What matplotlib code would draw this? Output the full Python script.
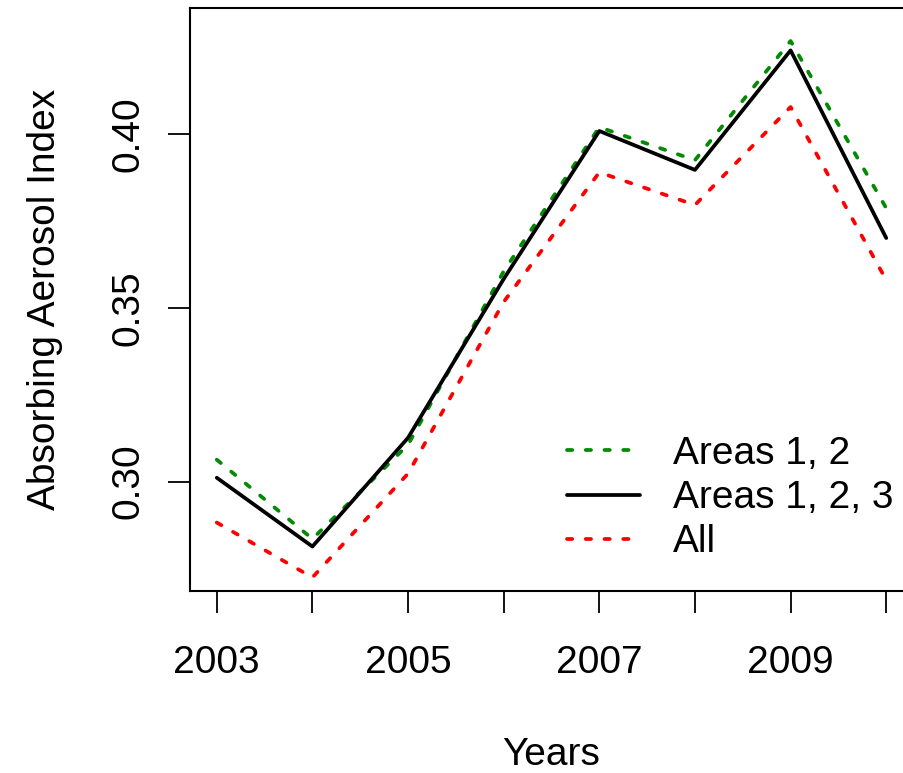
import matplotlib
matplotlib.use("Agg")
import matplotlib.pyplot as plt

years = [2003, 2004, 2005, 2006, 2007, 2008, 2009, 2010]
areas_12 = [0.3063, 0.2835, 0.3106, 0.3605, 0.4020, 0.3925, 0.4268, 0.3787]
areas_123 = [0.3011, 0.2813, 0.3126, 0.3583, 0.4009, 0.3897, 0.4241, 0.3701]
all_areas = [0.2882, 0.2724, 0.3023, 0.3517, 0.3890, 0.3796, 0.4078, 0.3580]
x_tick_labels = ["2003", "", "2005", "", "2007", "", "2009", ""]
y_ticks = [0.30, 0.35, 0.40]
y_tick_labels = ["0.30", "0.35", "0.40"]

plt.rcParams['font.family'] = ['Liberation Sans', 'DejaVu Sans']

W, H = 904, 773
fig = plt.figure(figsize=(W / 100, H / 100), dpi=100)
left, right, top, bottom = 190, 913, 8, 591
ax = fig.add_axes([left / W, (H - bottom) / H, (right - left) / W, (bottom - top) / H])

lw = 2.7
dot = (1.4, 3.6)
ax.plot(years, areas_12, color='#008B00', lw=lw, dashes=dot, dash_capstyle='round', label='Areas 1, 2')
ax.plot(years, areas_123, color='black', lw=lw, solid_capstyle='round', label='Areas 1, 2, 3')
ax.plot(years, all_areas, color='#FF0000', lw=lw, dashes=dot, dash_capstyle='round', label='All')

ax.set_xlim(2002.72, 2010.28)
ax.set_ylim(0.2685, 0.4363)

fs = 28
ax.set_xticks(years)
ax.set_xticklabels(x_tick_labels)
ax.set_yticks(y_ticks)
ax.set_yticklabels(y_tick_labels, rotation=90, va='center')
ax.tick_params(axis='both', direction='out', length=16, width=1.3, labelsize=fs)
ax.tick_params(axis='x', pad=23)
ax.tick_params(axis='y', pad=15)
for s in ax.spines.values():
    s.set_linewidth(1.5)

ax.set_xlabel('Years', fontsize=fs, va='center', ha='center')
ax.xaxis.set_label_coords(0.5, (bottom - 755) / (bottom - top))
ax.set_ylabel('Absorbing Aerosol Index', fontsize=fs, va='center', ha='center')
ax.yaxis.set_label_coords((45 - left) / (right - left), 0.5)

leg = ax.legend(loc='upper left', bbox_to_anchor=((567 - left) / (right - left), (bottom - 436) / (bottom - top)),
                frameon=False, fontsize=fs, handlelength=1.88, handletextpad=0.85,
                labelspacing=0.21, borderpad=0, borderaxespad=0)

fig.savefig('out.png', dpi=100)
